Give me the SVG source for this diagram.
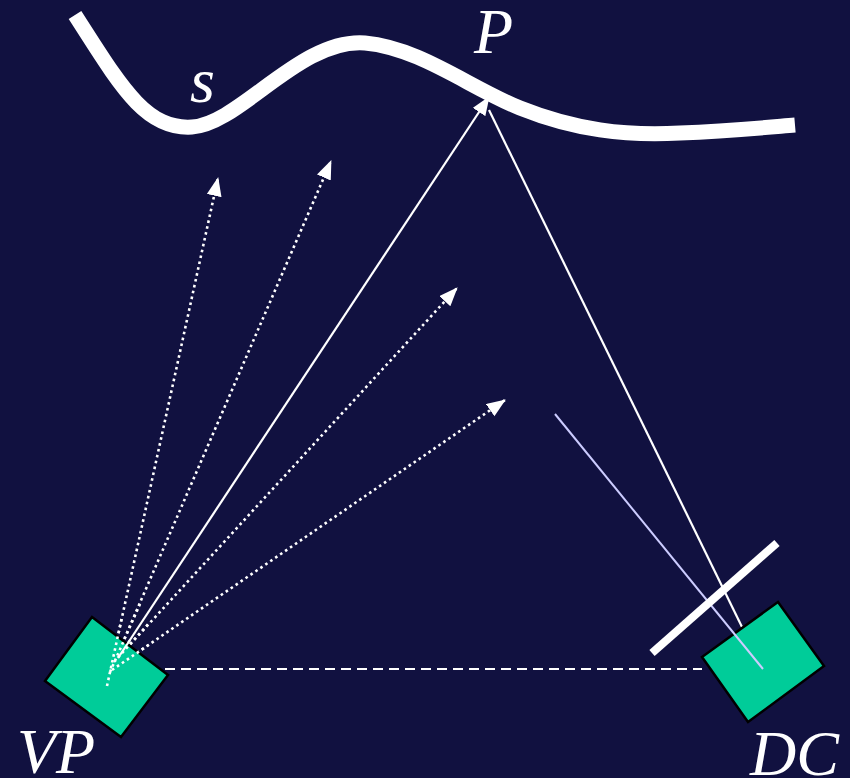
<svg xmlns="http://www.w3.org/2000/svg" width="850" height="778" viewBox="0 0 850 778">
<defs>
<marker id="ah" markerUnits="userSpaceOnUse" markerWidth="20" markerHeight="16" refX="18" refY="7.5" orient="auto">
<path d="M0,0 L19,7.5 L0,15 z" fill="#ffffff"/>
</marker>
</defs>
<style>
.lbl{font-family:"Liberation Serif","Times New Roman",serif;font-style:italic;fill:#ffffff;font-size:64px}
.box{fill:#00cc99;stroke:#000000;stroke-width:2.5}
.dot{fill:none;stroke:#ffffff;stroke-width:2.6;stroke-dasharray:2.6 3.4}
.sol{fill:none;stroke:#ffffff;stroke-width:2.2}
</style>
<rect width="850" height="778" fill="#111140"/>
<g id="surface">
<path d="M75,15 C120,85 145,130 192,127 C240,124 300,38 365,43 C420,48 470,88 520,108 C575,130 625,136 680,133 C730,131 760,128 795,125" fill="none" stroke="#ffffff" stroke-width="15"/>
<text class="lbl" x="190" y="102">s</text>
<text class="lbl" x="474" y="53">P</text>
</g>
<g id="connectors">
<line class="dot" x1="107" y1="686" x2="218" y2="178" marker-end="url(#ah)"/>
<line class="dot" x1="110" y1="672" x2="331" y2="161" marker-end="url(#ah)"/>
<line class="dot" x1="114" y1="662" x2="457" y2="288" marker-end="url(#ah)"/>
<line class="dot" x1="112" y1="670" x2="505" y2="400" marker-end="url(#ah)"/>
<line class="sol" x1="118" y1="658" x2="489" y2="97" marker-end="url(#ah)"/>
<line class="sol" x1="489" y1="110" x2="742" y2="627"/>
<line x1="165" y1="669" x2="702" y2="669" stroke="#ffffff" stroke-width="2.2" stroke-dasharray="10 6"/>
</g>
<g id="VP">
<polygon class="box" points="92,617 168,675 121,737 45,681"/>
<line class="dot" x1="107" y1="686" x2="122" y2="617"/>
<line class="dot" x1="110" y1="672" x2="140" y2="604"/>
<line class="dot" x1="114" y1="662" x2="150" y2="622"/>
<line class="dot" x1="112" y1="670" x2="150" y2="644"/>
<line class="sol" x1="118" y1="658" x2="130" y2="640"/>
<text class="lbl" x="17" y="773">VP</text>
</g>
<g id="DC">
<polygon class="box" points="778,602 824,666 748,722 702,657"/>
<line x1="555" y1="414" x2="763" y2="669" stroke="#ccccff" stroke-width="2"/>
<line x1="652" y1="653" x2="777" y2="543" stroke="#ffffff" stroke-width="8"/>
<text class="lbl" x="750" y="775">DC</text>
</g>
</svg>
